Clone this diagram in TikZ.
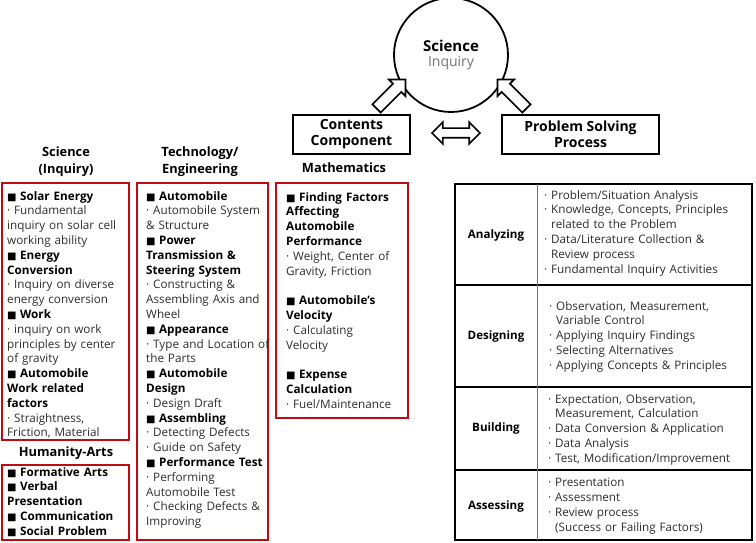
\documentclass[tikz,border=0pt]{standalone}
\usepackage{fontspec}
\setmainfont{Open Sans}
\newfontfamily\symfont{DejaVu Sans}
\usetikzlibrary{shapes.arrows,positioning}
\definecolor{boxred}{RGB}{192,10,20}
\definecolor{bodygray}{RGB}{45,45,45}
\newcommand{\itm}[1]{{\color{black}\bfseries{\symfont\fontsize{10}{10}\selectfont ■}\hspace{0.3em}#1}}
\newcommand{\ind}{\hphantom{· }}
\begin{document}
\begin{tikzpicture}[x=1pt,y=-1pt,
    every node/.style={font=\fontsize{11.7}{14.8}\selectfont},
    redbox/.style={draw=boxred,line width=2.4pt},
    listtext/.style={anchor=north west,align=left,inner sep=0pt,text=bodygray,text width=#1},
    listtext/.default=240pt,
    head/.style={font=\fontsize{12.8}{17}\selectfont\bfseries,align=center,inner sep=0pt},
    tophead/.style={draw,line width=2pt,minimum height=39pt,font=\fontsize{14}{16}\selectfont\bfseries,align=center,inner sep=1pt},
    rowlab/.style={font=\fontsize{11.6}{14}\selectfont\bfseries},
    hollow/.style={draw,line width=1.7pt,fill=white,inner sep=5pt}]
  \useasboundingbox (0,0) rectangle (756,543);
  % top part
  \node[circle,draw,line width=1.8pt,minimum size=114pt,align=center] (inq) at (451,55)
    {{\fontsize{15}{19}\selectfont\bfseries Science}\\{\fontsize{14}{16}\selectfont\color{black!55}Inquiry}};
  \node[tophead,minimum width=117pt] (cont) at (351.5,134.5) {Contents\\Component};
  \node[tophead,minimum width=157pt] (prob) at (580.5,134.5) {Problem Solving\\Process};
  \node[hollow,single arrow,single arrow head extend=6pt,minimum height=41pt,rotate=45] (up1) at (389,96) {};
  \node[hollow,single arrow,single arrow head extend=6pt,minimum height=41pt,rotate=135] (up2) at (514,96) {};
  \node[hollow,double arrow,double arrow head extend=6pt,minimum height=48pt,inner sep=4pt] (both) at (456,133) {};
  % column headers
  \node[head] (sciH) at (66,162) {Science\\(Inquiry)};
  \node[head] (tecH) at (200,162) {Technology/\\Engineering};
  \node[head] (matH) at (344,168) {Mathematics};
  \node[head] (artH) at (66,453) {Humanity-Arts};
  % red frames
  \draw[redbox] (2,183) rectangle (129,440);
  \draw[redbox] (2,465) rectangle (129,540);
  \draw[redbox] (137,183) rectangle (268,540);
  \draw[redbox] (276,183) rectangle (408,418);
  % lists
  \node[listtext] (sciL) at (7,191) {\itm{Solar Energy}\\· Fundamental\\inquiry on solar cell\\working ability\\\itm{Energy\\Conversion}\\· Inquiry on diverse\\energy conversion\\\itm{Work}\\· inquiry on work\\principles by center\\of gravity\\\itm{Automobile\\Work related\\factors}\\· Straightness,\\Friction, Material};
  \node[listtext] (artL) at (7,467) {\itm{Formative Arts}\\\itm{Verbal\\Presentation}\\\itm{Communication}\\\itm{Social Problem}};
  \node[listtext] (tecL) at (146,191) {\itm{Automobile}\\· Automobile System\\\& Structure\\\itm{Power\\Transmission \&\\Steering System}\\· Constructing \&\\Assembling Axis and\\Wheel\\\itm{Appearance}\\· Type and Location of\\the Parts\\\itm{Automobile\\Design}\\· Design Draft\\\itm{Assembling}\\· Detecting Defects\\· Guide on Safety\\\itm{Performance Test}\\· Performing\\Automobile Test\\· Checking Defects \&\\Improving};
  \node[listtext] (matL) at (286,192) {\itm{Finding Factors\\Affecting\\Automobile\\Performance}\\· Weight, Center of\\Gravity, Friction\\[14.8pt]\itm{Automobile’s\\Velocity}\\· Calculating\\Velocity\\[14.8pt]\itm{Expense\\Calculation}\\· Fuel/Maintenance};
  % process table
  \draw[line width=2pt] (455,184) rectangle (752,540);
  \draw[line width=1.8pt] (455,285) -- (752,285);
  \draw[line width=1.8pt] (455,387) -- (752,387);
  \draw[line width=1.8pt] (455,470) -- (752,470);
  \draw[line width=0.8pt,black!55] (537,184) -- (537,540);
  \node[rowlab] (ana) at (496,235) {Analyzing};
  \node[rowlab] (des) at (496,336) {Designing};
  \node[rowlab] (bui) at (496,428) {Building};
  \node[rowlab] (ass) at (496,506) {Assessing};
  \node[listtext] (anaL) at (544,190) {· Problem/Situation Analysis\\· Knowledge, Concepts, Principles\\\ind related to the Problem\\· Data/Literature Collection \&\\\ind Review process\\· Fundamental Inquiry Activities};
  \node[listtext] (desL) at (549,301) {· Observation, Measurement,\\\ind Variable Control\\· Applying Inquiry Findings\\· Selecting Alternatives\\· Applying Concepts \& Principles};
  \node[listtext] (buiL) at (548,394) {· Expectation, Observation,\\\ind Measurement, Calculation\\· Data Conversion \& Application\\· Data Analysis\\· Test, Modification/Improvement};
  \node[listtext] (assL) at (548,478) {· Presentation\\· Assessment\\· Review process\\\ind(Success or Failing Factors)};
\end{tikzpicture}
\end{document}
